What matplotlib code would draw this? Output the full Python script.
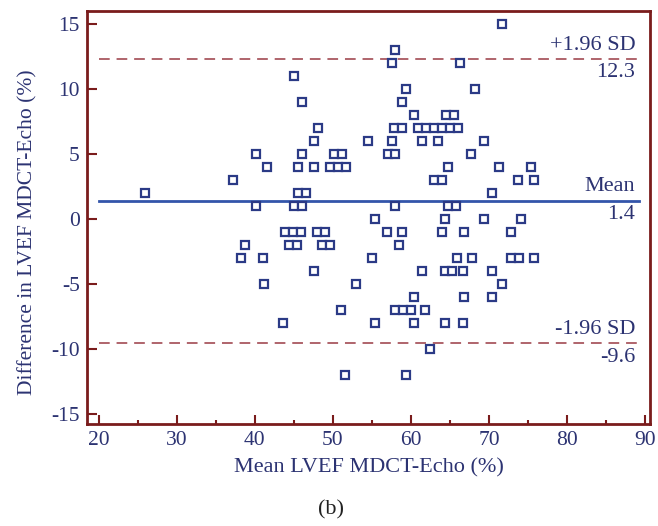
import matplotlib
matplotlib.use("Agg")
import matplotlib.pyplot as plt
from matplotlib.ticker import MultipleLocator

plt.rcParams['font.family'] = ['Liberation Serif', 'DejaVu Serif']
plt.rcParams['axes.unicode_minus'] = False

# Bland-Altman points, grouped by difference value (y)
diff_levels = [15, 13, 12, 11, 10, 9, 8, 7, 6, 5, 4, 3, 2, 1, 0,
               -1, -2, -3, -4, -5, -6, -7, -8, -10, -12]
means_at_level = [
    [71.7],
    [57.9],
    [57.5, 66.3],
    [45.0],
    [59.4, 68.2],
    [46.1, 58.9],
    [60.4, 64.5, 65.5],
    [48.1, 57.8, 58.9, 60.9, 61.9, 63.0, 64.0, 65.0, 66.0],
    [47.6, 54.5, 57.6, 61.4, 63.5, 69.4],
    [40.2, 46.1, 50.1, 51.2, 57.0, 58.0, 67.7],
    [41.6, 45.5, 47.6, 49.6, 50.7, 51.7, 64.7, 71.2, 75.3],
    [37.2, 62.9, 63.9, 73.7, 75.8],
    [26.0, 45.5, 46.6, 70.3],
    [40.2, 45.0, 46.1, 57.9, 64.7, 65.7],
    [55.4, 64.4, 69.4, 74.1],
    [43.8, 44.9, 45.9, 48.0, 49.0, 56.9, 58.9, 63.9, 66.8, 72.8],
    [38.7, 44.4, 45.4, 48.6, 49.6, 58.5],
    [38.2, 41.1, 55.0, 65.9, 67.8, 72.8, 73.8, 75.7],
    [47.6, 61.4, 64.3, 65.3, 66.7, 70.3],
    [41.2, 52.9, 71.7],
    [60.4, 66.8, 70.3],
    [51.0, 58.0, 59.0, 60.0, 61.8],
    [43.6, 55.4, 60.4, 64.4, 66.7],
    [62.4],
    [51.5, 59.4],
]

mean_diff = 1.4
upper_loa = 12.3
lower_loa = -9.6

xs, ys = [], []
for lvl, row in zip(diff_levels, means_at_level):
    for m in row:
        xs.append(m)
        ys.append(lvl)

navy = '#2c3372'
maroon = '#7a1c1c'

fig = plt.figure(figsize=(6.58, 5.26), dpi=100)
ax = fig.add_axes([0.132, 0.194, 0.856, 0.785])

ax.plot(xs, ys, 's', ms=5.8, mfc='white', mec='#2b3a86', mew=1.6, ls='none', zorder=3)

ax.plot([20, 89.2], [mean_diff, mean_diff], color='#3355aa', lw=2)
for v in (upper_loa, lower_loa):
    ax.plot([20, 89.2], [v, v], color='#9a3a44', lw=1.1, dashes=(7, 4.5))

labels = [(upper_loa, '+1.96 SD', '12.3'),
          (mean_diff, 'Mean', '1.4'),
          (lower_loa, '-1.96 SD', '-9.6')]
for v, top, bot in labels:
    ax.annotate(top, (88.7, v), xytext=(0, 3), textcoords='offset points',
                ha='right', va='bottom', fontsize=16, color=navy)
    ax.annotate(bot, (88.7, v), xytext=(0, -3), textcoords='offset points',
                ha='right', va='top', fontsize=16, color=navy)

ax.set_xlim(18.5, 90.6)
ax.set_ylim(-15.8, 16)
ax.xaxis.set_major_locator(MultipleLocator(10))
ax.xaxis.set_minor_locator(MultipleLocator(5))
ax.yaxis.set_major_locator(MultipleLocator(5))

for s in ax.spines.values():
    s.set_color(maroon)
    s.set_linewidth(2)

ax.tick_params(axis='both', which='major', direction='in', color=maroon,
               width=1.5, labelsize=15.5, labelcolor=navy, pad=5)
ax.tick_params(axis='y', which='major', length=7)
ax.tick_params(axis='x', which='major', length=6.5)
ax.tick_params(axis='x', which='minor', direction='in', length=3, width=1.5, color=maroon)

ax.set_xlabel('Mean LVEF MDCT-Echo (%)', fontsize=16, color=navy, labelpad=6)
ax.set_ylabel('Difference in LVEF MDCT-Echo (%)', fontsize=15.5, color=navy)
ax.yaxis.set_label_coords(-0.088, 0.465)

fig.text(0.503, 0.03, '(b)', ha='center', va='center', fontsize=16, color='#222222')

fig.savefig('out.png', dpi=100)
